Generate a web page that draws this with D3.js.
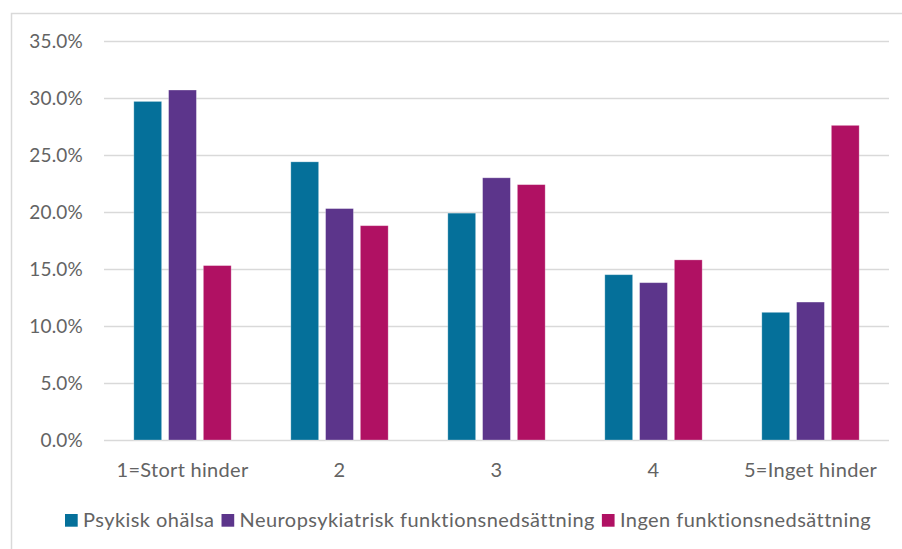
<!DOCTYPE html>
<html>
<head>
<meta charset="utf-8">
<script src="https://cdn.jsdelivr.net/npm/d3@7"></script>
<style>
  body { margin: 0; background: #fff; }
  text { font-family: Lato, 'Open Sans', sans-serif; fill: #636363; }
</style>
</head>
<body>
<script>
const categories = ['1=Stort hinder', '2', '3', '4', '5=Inget hinder']
const seriesNames = ['Psykisk ohälsa', 'Neuropsykiatrisk funktionsnedsättning', 'Ingen funktionsnedsättning']
const psykisk = [29.7, 24.4, 19.9, 14.5, 11.2]
const neuro = [30.7, 20.3, 23.0, 13.8, 12.1]
const ingen = [15.3, 18.8, 22.4, 15.8, 27.6]
const yTicks = [0, 5, 10, 15, 20, 25, 30, 35]
const colors = ['#05709a', '#5c358b', '#b01163']

const W = 902, H = 549
const m = { left: 104, right: 13, top: 41, bottom: 109 }

const rows = categories.map((c, i) => ({ c, v: [psykisk[i], neuro[i], ingen[i]] }))

const svg = d3.select('body').append('svg').attr('width', W).attr('height', H)

svg.append('rect')
  .attr('x', 11.5).attr('y', 13.5).attr('width', W).attr('height', H)
  .attr('fill', 'none').attr('stroke', '#d9d9d9').attr('stroke-width', 1.5)

const x0 = d3.scaleBand().domain(categories).range([m.left, W - m.right])
  .paddingInner(0.38).paddingOuter(0.19)
const x1 = d3.scaleBand().domain(d3.range(3)).range([0, x0.bandwidth()]).paddingInner(0.2)
const y = d3.scaleLinear().domain([0, 35]).range([H - m.bottom, m.top])

// grid
svg.append('g')
  .selectAll('line')
  .data(yTicks)
  .join('line')
  .attr('x1', m.left).attr('x2', W - m.right)
  .attr('y1', d => Math.round(y(d)) + 0.5).attr('y2', d => Math.round(y(d)) + 0.5)
  .attr('stroke', '#d9d9d9').attr('stroke-width', 1.5)

// y labels
svg.append('g')
  .selectAll('text')
  .data(yTicks)
  .join('text')
  .attr('x', 83).attr('y', d => y(d))
  .attr('dy', '0.35em')
  .attr('text-anchor', 'end')
  .style('font-size', '19px')
  .style('letter-spacing', '0.2px')
  .text(d => d.toFixed(1) + '%')

// bars
svg.append('g')
  .selectAll('g')
  .data(rows)
  .join('g')
  .attr('transform', d => `translate(${x0(d.c)},0)`)
  .selectAll('rect')
  .data(d => d.v)
  .join('rect')
  .attr('x', (d, i) => x1(i))
  .attr('width', x1.bandwidth())
  .attr('y', d => y(d))
  .attr('height', d => y(0) - y(d))
  .attr('fill', (d, i) => colors[i])
  .attr('stroke', 'rgba(255,255,255,0.35)')
  .attr('stroke-width', 0.8)

// category labels
svg.append('g')
  .selectAll('text')
  .data(categories)
  .join('text')
  .attr('x', d => x0(d) + x0.bandwidth() / 2)
  .attr('y', 477)
  .attr('text-anchor', 'middle')
  .style('font-size', '20px')
  .style('letter-spacing', '0.3px')
  .text(d => d)

// legend
const legend = svg.append('g')
let lx = 65
seriesNames.forEach((name, i) => {
  legend.append('rect')
    .attr('x', lx).attr('y', 514).attr('width', 12.7).attr('height', 12.7)
    .attr('fill', colors[i])
  const t = legend.append('text')
    .attr('x', lx + 18).attr('y', 527)
    .style('font-size', '20px')
    .style('letter-spacing', '0.45px')
    .text(name)
  lx += 18 + t.node().getComputedTextLength() + 7
})
</script>
</body>
</html>
